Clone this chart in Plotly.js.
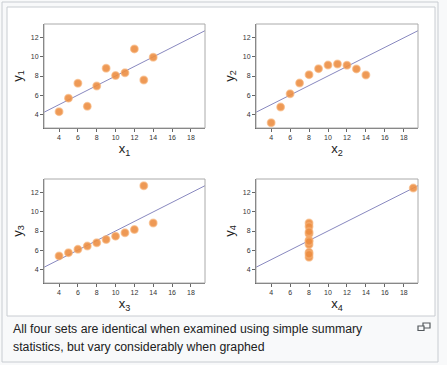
<!DOCTYPE html>
<html><head><meta charset="utf-8">
<script src="https://cdn.plot.ly/plotly-3.0.1.min.js"></script>
<style>html,body{margin:0;padding:0;background:#f8f9fa;}#chart{width:447px;height:365px;}</style>
</head><body><div id="chart"></div>
<script>
// Anscombe's quartet
const x123 = [10, 8, 13, 9, 11, 14, 6, 4, 12, 7, 5];
const y1 = [8.04, 6.95, 7.58, 8.81, 8.33, 9.96, 7.24, 4.26, 10.84, 4.82, 5.68];
const y2 = [9.14, 8.14, 8.74, 8.77, 9.26, 8.10, 6.13, 3.10, 9.13, 7.26, 4.74];
const y3 = [7.46, 6.77, 12.74, 7.11, 7.81, 8.84, 6.08, 5.39, 8.15, 6.42, 5.73];
const x4 = [8, 8, 8, 8, 8, 8, 8, 19, 8, 8, 8];
const y4 = [6.58, 5.76, 7.71, 8.84, 8.47, 7.04, 5.25, 12.50, 5.56, 7.91, 6.89];
const fitX = [2.4, 19.5];
const fitY = [4.2, 12.75];
const xTicks = [4, 6, 8, 10, 12, 14, 16, 18];
const yTicks = [4, 6, 8, 10, 12];
const xTitles = ['x<sub>1</sub>', 'x<sub>2</sub>', 'x<sub>3</sub>', 'x<sub>4</sub>'];
const yTitles = ['y<sub>1</sub>', 'y<sub>2</sub>', 'y<sub>3</sub>', 'y<sub>4</sub>'];
const caption1 = 'All four sets are identical when examined using simple summary';
const caption2 = 'statistics, but vary considerably when graphed';

const W = 447, H = 365;
const boxes = [[44, 205, 24, 128], [256, 418, 24, 128], [44, 205, 179, 283], [256, 418, 179, 283]];
const sets = [[x123, y1], [x123, y2], [x123, y3], [x4, y4]];

const data = [];
const layout = {
  width: W, height: H,
  margin: {l: 0, r: 0, t: 0, b: 0},
  paper_bgcolor: '#f8f9fa', plot_bgcolor: '#ffffff',
  showlegend: false,
  font: {family: 'Liberation Sans, Arial, sans-serif', color: '#222'},
  shapes: [
    {type: 'rect', xref: 'paper', yref: 'paper', x0: 2/W, x1: 438/W, y0: 1-362/H, y1: 1-2/H,
     line: {color: '#c8ccd1', width: 1}, fillcolor: '#f8f9fa', layer: 'below'},
    {type: 'rect', xref: 'paper', yref: 'paper', x0: 7/W, x1: 435/W, y0: 1-316/H, y1: 1-7/H,
     line: {color: '#c8ccd1', width: 1}, fillcolor: '#ffffff', layer: 'below'},
    {type: 'rect', xref: 'paper', yref: 'paper', x0: 423/W, x1: 430/W, y0: 1-328/H, y1: 1-323/H,
     line: {color: '#54595d', width: 1.2}, fillcolor: 'rgba(0,0,0,0)'},
    {type: 'rect', xref: 'paper', yref: 'paper', x0: 418/W, x1: 424/W, y0: 1-330.5/H, y1: 1-326/H,
     line: {color: '#54595d', width: 1.2}, fillcolor: '#f8f9fa'}
  ],
  annotations: [
    {xref: 'paper', yref: 'paper', x: 11/W, y: 1-329/H, xanchor: 'left', yanchor: 'middle',
     text: caption1, showarrow: false, font: {size: 12.3, color: '#202122'}},
    {xref: 'paper', yref: 'paper', x: 11/W, y: 1-347/H, xanchor: 'left', yanchor: 'middle',
     text: caption2, showarrow: false, font: {size: 12.3, color: '#202122'}}
  ]
};

for (let i = 0; i < 4; i++) {
  const s = i === 0 ? '' : String(i + 1);
  const b = boxes[i];
  data.push({x: fitX, y: fitY, xaxis: 'x' + s, yaxis: 'y' + s, mode: 'lines',
    line: {color: '#7b7bb8', width: 0.9}, hoverinfo: 'skip'});
  data.push({x: sets[i][0], y: sets[i][1], xaxis: 'x' + s, yaxis: 'y' + s, mode: 'markers',
    marker: {size: 7.5, color: 'rgba(236,142,66,0.9)', line: {color: 'rgba(246,178,120,0.6)', width: 1.5}}});
  const axBase = {showgrid: false, zeroline: false, showline: true, linecolor: '#666', linewidth: 1,
    ticks: 'outside', ticklen: 3, tickcolor: '#666', tickwidth: 1, tickfont: {size: 7, color: '#333'}};
  layout['xaxis' + s] = Object.assign({}, axBase, {
    domain: [b[0]/W, b[1]/W], anchor: 'y' + s, range: [2.4, 19.5],
    tickvals: xTicks, ticktext: xTicks.map(String),
    title: {text: xTitles[i], font: {size: 13, color: '#222'}, standoff: 1}
  });
  layout['yaxis' + s] = Object.assign({}, axBase, {
    domain: [1 - b[3]/H, 1 - b[2]/H], anchor: 'x' + s, range: [2.55, 13.45],
    tickvals: yTicks, ticktext: yTicks.map(String),
    title: {text: yTitles[i], font: {size: 13, color: '#222'}, standoff: 5}
  });
  layout.shapes.push({type: 'rect', xref: 'paper', yref: 'paper', x0: b[0]/W, x1: b[1]/W,
    y0: 1 - b[3]/H, y1: 1 - b[2]/H, line: {color: '#aaaaaa', width: 1}, fillcolor: 'rgba(0,0,0,0)', layer: 'above'});
}

Plotly.newPlot('chart', data, layout, {displayModeBar: false, staticPlot: true});
</script></body></html>
